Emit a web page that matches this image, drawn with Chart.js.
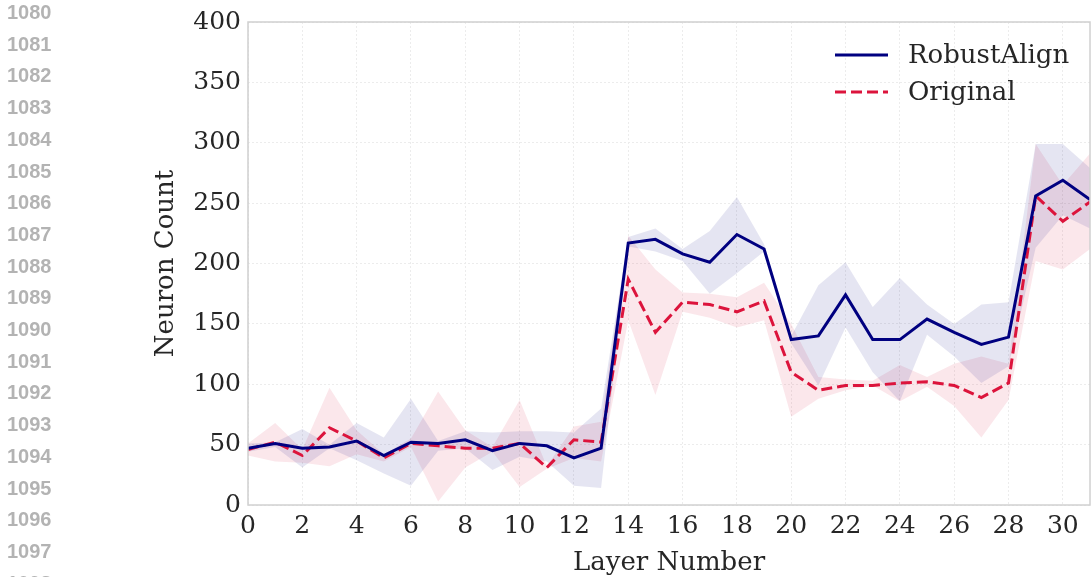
<!DOCTYPE html>
<html>
<head>
<meta charset="utf-8">
<script src="https://cdn.jsdelivr.net/npm/chart.js@4/dist/chart.umd.min.js"></script>
<style>
  html, body { margin: 0; padding: 0; background: #fff; }
  #wrap { position: relative; width: 1091px; height: 577px; overflow: hidden; }
  #plot { position: absolute; left: 0; top: 0; }
  .ln { position: absolute; left: 7px; font: bold 20px "Liberation Sans", Arial, sans-serif; color: #b3b3b3; line-height: 1; }
</style>
</head>
<body>
<div id="wrap">
  <canvas id="plot" width="1091" height="577"></canvas>
</div>
<script>
const layers = [0, 1, 2, 3, 4, 5, 6, 7, 8, 9, 10, 11, 12, 13, 14, 15,
                16, 17, 18, 19, 20, 21, 22, 23, 24, 25, 26, 27, 28, 29, 30, 31];

const robustAlign = [47, 51, 47, 48, 53, 41, 52, 51, 54, 45, 51, 49, 39, 47, 217, 220,
                     208, 201, 224, 212, 137, 140, 174, 137, 137, 154, 143, 133, 139, 256, 269, 253];
const robustHigh  = [51, 52, 63, 50, 68, 56, 88, 53, 61, 60, 61, 61, 60, 80, 222, 229,
                     212, 227, 255, 216, 140, 182, 201, 164, 188, 166, 150, 166, 168, 299, 299, 279];
const robustLow   = [44, 48, 31, 47, 37, 26, 16, 45, 47, 29, 40, 36, 16, 14, 214, 210,
                     202, 175, 192, 210, 134, 99, 147, 110, 86, 141, 123, 101, 115, 213, 240, 229];

const original     = [46, 52, 41, 64, 53, 39, 51, 49, 47, 47, 51, 31, 54, 52, 187, 143,
                      168, 166, 160, 169, 110, 95, 99, 99, 101, 102, 99, 89, 101, 256, 235, 251];
const originalHigh = [51, 68, 46, 97, 62, 42, 55, 94, 62, 48, 87, 32, 65, 69, 223, 195,
                      176, 175, 172, 184, 150, 106, 104, 103, 116, 106, 117, 123, 117, 299, 265, 291];
const originalLow  = [41, 36, 35, 32, 42, 36, 48, 3, 31, 44, 15, 30, 39, 36, 153, 91,
                      160, 155, 147, 153, 73, 88, 95, 99, 86, 98, 82, 56, 87, 202, 195, 212];

const xTicks = [0, 2, 4, 6, 8, 10, 12, 14, 16, 18, 20, 22, 24, 26, 28, 30];
const yTicks = [0, 50, 100, 150, 200, 250, 300, 350, 400];
const lineNumbers = ['1080', '1081', '1082', '1083', '1084', '1085', '1086', '1087', '1088',
                     '1089', '1090', '1091', '1092', '1093', '1094', '1095', '1096', '1097', '1098'];

// margin line numbers of the page
const wrap = document.getElementById('wrap');
lineNumbers.forEach((t, i) => {
  const d = document.createElement('div');
  d.className = 'ln';
  d.textContent = t;
  d.style.top = (2 + i * 31.7) + 'px';
  wrap.appendChild(d);
});

const NAVY = '#000080';
const CRIMSON = '#DC143C';
const SERIF = '"DejaVu Serif", serif';
const TXT = '#262626';
const DASH = [11, 5];

function pts(arr) {
  return layers.map((x, i) => ({x: x, y: arr[i]}));
}

const frame = {
  id: 'frame',
  afterDraw(chart) {
    const a = chart.chartArea, c = chart.ctx;
    c.save();
    c.strokeStyle = '#d0d0d0';
    c.lineWidth = 1.5;
    c.strokeRect(a.left, a.top, a.right - a.left, a.bottom - a.top);
    c.restore();
  }
};

const legendBox = {
  id: 'legendBox',
  afterDraw(chart) {
    const c = chart.ctx;
    const items = [
      {label: 'RobustAlign', color: NAVY, dash: [], y: 55},
      {label: 'Original', color: CRIMSON, dash: DASH, y: 92}
    ];
    c.save();
    items.forEach(it => {
      c.beginPath();
      c.setLineDash(it.dash);
      c.strokeStyle = it.color;
      c.lineWidth = 3;
      c.moveTo(835, it.y);
      c.lineTo(888, it.y);
      c.stroke();
      c.setLineDash([]);
      c.fillStyle = TXT;
      c.font = '26px ' + SERIF;
      c.textBaseline = 'middle';
      c.fillText(it.label, 908, it.y + 1);
    });
    c.restore();
  }
};

const ctx = document.getElementById('plot');

const config = {
  type: 'line',
  data: {
    datasets: [
      {label: 'RobustAlign', data: pts(robustAlign), borderColor: NAVY, borderWidth: 3,
       pointRadius: 0, fill: false},
      {label: 'Original', data: pts(original), borderColor: CRIMSON, borderWidth: 3,
       borderDash: DASH, pointRadius: 0, fill: false},
      {label: 'robustHigh', data: pts(robustHigh), borderWidth: 0, borderColor: 'rgba(0,0,128,0.12)',
       pointRadius: 0, fill: '+1', backgroundColor: 'rgba(0,0,128,0.1)'},
      {label: 'robustLow', data: pts(robustLow), borderWidth: 0, borderColor: 'rgba(0,0,128,0.12)',
       pointRadius: 0, fill: false},
      {label: 'originalHigh', data: pts(originalHigh), borderWidth: 0, borderColor: 'rgba(220,20,60,0.12)',
       pointRadius: 0, fill: '+1', backgroundColor: 'rgba(220,20,60,0.1)'},
      {label: 'originalLow', data: pts(originalLow), borderWidth: 0, borderColor: 'rgba(220,20,60,0.12)',
       pointRadius: 0, fill: false}
    ]
  },
  options: {
    responsive: false,
    animation: false,
    layout: {padding: {left: 151, top: 20, right: 1, bottom: 0}},
    plugins: {
      legend: {display: false},
      tooltip: {enabled: false}
    },
    scales: {
      x: {
        type: 'linear',
        min: 0,
        max: 31,
        afterBuildTicks: s => { s.ticks = xTicks.map(v => ({value: v})); },
        afterFit: s => { s.height = 72; },
        grid: {color: '#ececec', drawTicks: false},
        border: {display: false, dash: [2, 2]},
        ticks: {padding: 6, color: TXT, font: {family: SERIF, size: 25}, maxRotation: 0, autoSkip: false},
        title: {display: true, text: 'Layer Number', color: TXT, font: {family: SERIF, size: 26},
                padding: {top: 0, bottom: -2}}
      },
      y: {
        min: 0,
        max: 400,
        afterBuildTicks: s => { s.ticks = yTicks.map(v => ({value: v})); },
        afterFit: s => { s.width = 97; },
        grid: {color: '#ececec', drawTicks: false},
        border: {display: false, dash: [2, 2]},
        ticks: {padding: 7, color: TXT, font: {family: SERIF, size: 25}},
        title: {display: true, text: 'Neuron Count', color: TXT, font: {family: SERIF, size: 26},
                padding: {top: 0, bottom: 0}}
      }
    }
  },
  plugins: [frame, legendBox]
};

const chart = new Chart(ctx, config);
</script>
</body>
</html>
